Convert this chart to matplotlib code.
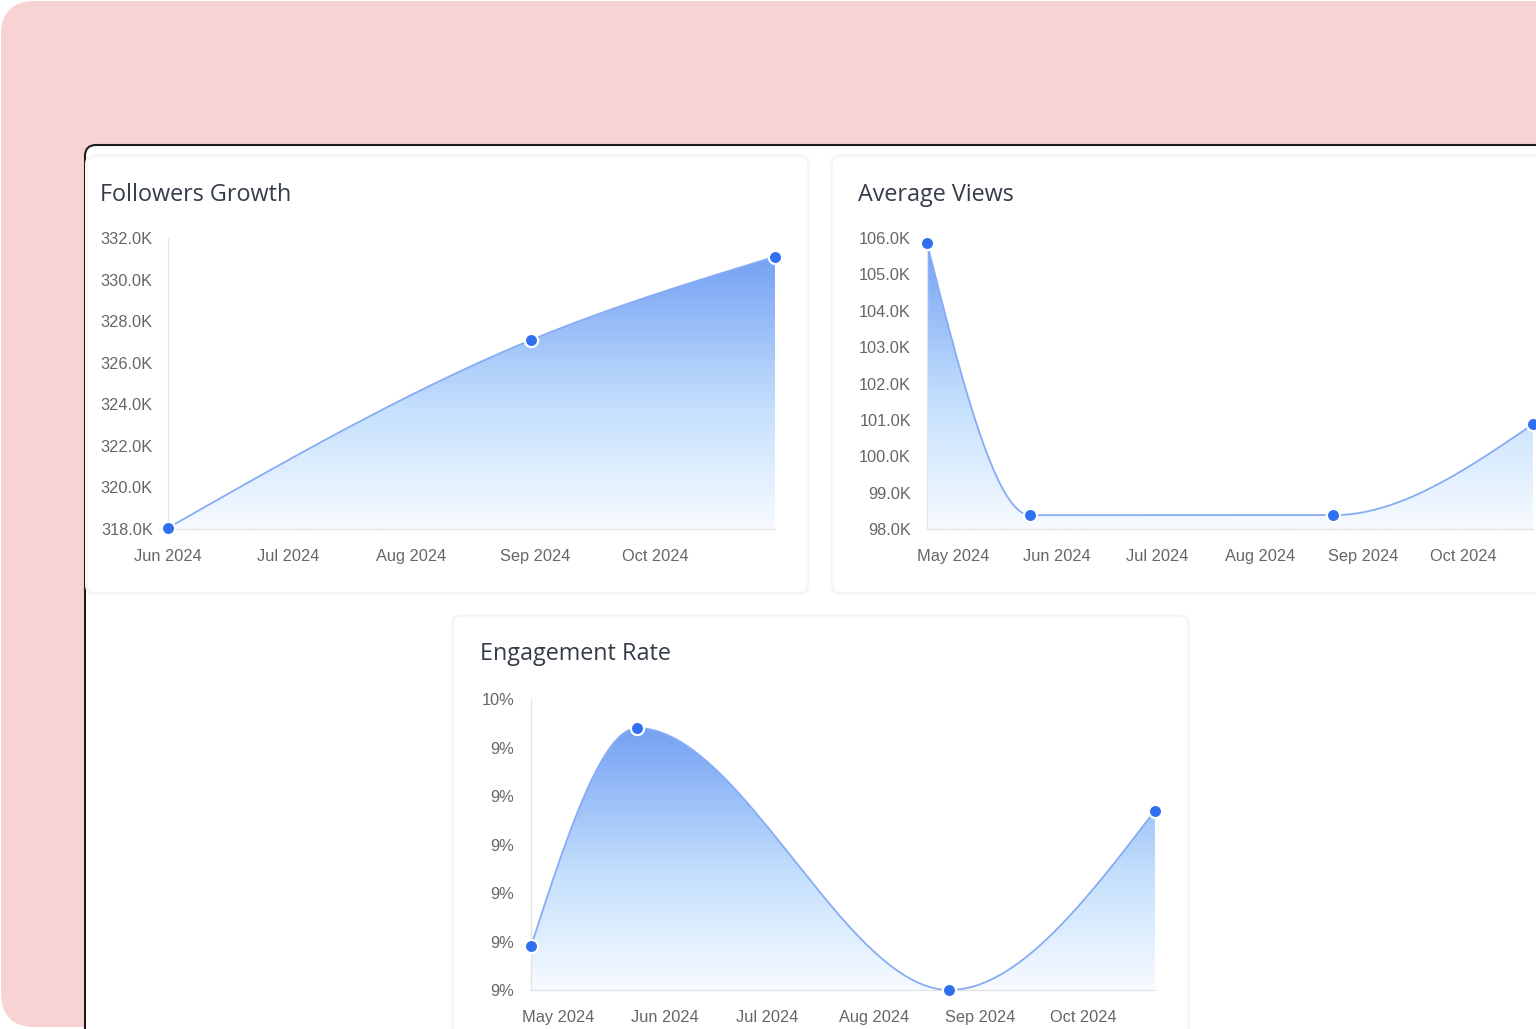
import numpy as np
import matplotlib
matplotlib.use('Agg')
import matplotlib.pyplot as plt
import matplotlib.dates as mdates
from matplotlib.patches import FancyBboxPatch, Polygon
from matplotlib.colors import LinearSegmentedColormap
from matplotlib.ticker import FixedLocator, FuncFormatter
from datetime import date

# data
followers_dates = ['2024-06-01', '2024-08-31', '2024-10-31']
followers_k = [318.05, 327.1, 331.1]
followers_ticks = [318, 320, 322, 324, 326, 328, 330, 332]

views_dates = ['2024-04-23', '2024-05-24', '2024-08-23', '2024-10-22']
views_k = [105.86, 98.38, 98.38, 100.88]
views_ticks = [98, 99, 100, 101, 102, 103, 104, 105, 106]

eng_dates = ['2024-04-23', '2024-05-24', '2024-08-23', '2024-10-22']
eng_rate = [8.99, 9.44, 8.90, 9.27]
eng_ticks = [8.9, 9.0, 9.1, 9.2, 9.3, 9.4, 9.5]

W, H = 1536, 1029
fig = plt.figure(figsize=(W / 100, H / 100), dpi=100)
fig.patch.set_facecolor('white')

# background layer in pixel coordinates
bg = fig.add_axes([0, 0, 1, 1], zorder=0)
bg.set_xlim(0, W)
bg.set_ylim(H, 0)
bg.axis('off')

bg.add_patch(FancyBboxPatch((1, 1), 1800, H - 3, boxstyle='round,pad=0,rounding_size=34',
                            facecolor='#f8d3d3', edgecolor='none'))
bg.add_patch(FancyBboxPatch((85, 145), 1800, 1000, boxstyle='round,pad=0,rounding_size=11',
                            facecolor='white', edgecolor='#1c1c1c', linewidth=1.5))

cards = [(87, 156, 721, 437), (832, 156, 760, 437), (453, 616, 735, 460)]
for cx, cy, cw, ch in cards:
    bg.add_patch(FancyBboxPatch((cx - 2, cy - 2), cw + 4, ch + 4,
                                boxstyle='round,pad=0,rounding_size=10',
                                facecolor='#f8f8f8', edgecolor='none'))
    bg.add_patch(FancyBboxPatch((cx, cy), cw, ch, boxstyle='round,pad=0,rounding_size=9',
                                facecolor='white', edgecolor='#f3f3f3', linewidth=0.8))

title_kw = dict(fontsize=16.8, color='#353c49', family='Open Sans',
                va='center', ha='left')
bg.text(100, 195, 'Followers Growth', **title_kw)
bg.text(858, 195, 'Average Views', **title_kw)
bg.text(480, 654, 'Engagement Rate', **title_kw)

grad = LinearSegmentedColormap.from_list('g', [(0, '#f7fbff'), (0.45, '#c4dffd'), (1, '#74a1f3')])


def px_axes(l, t, r, b):
    return fig.add_axes([l / W, 1 - b / H, (r - l) / W, (b - t) / H], zorder=2)


def smooth(ax, xs, ys, n=80):
    # monotone cubic in screen space
    p = ax.transData.transform(np.column_stack([xs, ys]))
    X, Y = p[:, 0], p[:, 1]
    h = np.diff(X)
    s = np.diff(Y) / h
    m = np.zeros(len(X))
    for i in range(1, len(X) - 1):
        pp = (s[i - 1] * h[i] + s[i] * h[i - 1]) / (h[i - 1] + h[i])
        m[i] = (np.sign(s[i - 1]) + np.sign(s[i])) * min(abs(s[i - 1]), abs(s[i]), 0.5 * abs(pp))
    m[0] = (3 * s[0] - m[1]) / 2
    m[-1] = (3 * s[-1] - m[-2]) / 2
    out = [p[0]]
    t = np.linspace(0, 1, n)[1:]
    for i in range(len(X) - 1):
        h00 = 2 * t ** 3 - 3 * t ** 2 + 1
        h10 = t ** 3 - 2 * t ** 2 + t
        h01 = -2 * t ** 3 + 3 * t ** 2
        h11 = t ** 3 - t ** 2
        xx = X[i] + t * h[i]
        yy = h00 * Y[i] + h10 * h[i] * m[i] + h01 * Y[i + 1] + h11 * h[i] * m[i + 1]
        out.extend(np.column_stack([xx, yy]))
    return ax.transData.inverted().transform(np.array(out))


def area_chart(rect, dates, vals, yticks, fmt, ypad):
    ax = px_axes(*rect)
    ax.patch.set_alpha(0)
    x = mdates.date2num([date.fromisoformat(d) for d in dates])
    xlim = (x[0], x[-1])
    ylim = (yticks[0], yticks[-1])
    ax.set_xlim(*xlim)
    ax.set_ylim(*ylim)

    curve = smooth(ax, x, vals)
    poly = np.vstack([curve, [[xlim[1], ylim[0]], [xlim[0], ylim[0]]]])
    clip = Polygon(poly, closed=True, transform=ax.transData, facecolor='none', edgecolor='none')
    ax.add_patch(clip)
    img = ax.imshow(np.linspace(0, 1, 256)[:, None], cmap=grad, aspect='auto', origin='lower',
                    extent=[xlim[0], xlim[1], ylim[0], max(vals)], zorder=1)
    img.set_clip_path(clip)
    ax.plot(curve[:, 0], curve[:, 1], color='#86acf5', lw=1.3, zorder=3)
    ax.plot(x, vals, 'o', ms=9.5, mfc='#2f6ff0', mec='white', mew=1.6, zorder=4, clip_on=False)
    ax.set_xlim(*xlim)
    ax.set_ylim(*ylim)

    months = []
    d0 = mdates.num2date(xlim[0])
    yy, mm = d0.year, d0.month + 1
    while True:
        if mm > 12:
            yy, mm = yy + 1, 1
        m = mdates.date2num(date(yy, mm, 1))
        if m > xlim[1]:
            break
        months.append(m)
        mm += 1
    if xlim[0] == mdates.date2num(date(d0.year, d0.month, 1)):
        months.insert(0, xlim[0])
    ax.xaxis.set_major_locator(FixedLocator(months))
    ax.xaxis.set_major_formatter(mdates.DateFormatter('%b %Y'))
    ax.yaxis.set_major_locator(FixedLocator(yticks))
    ax.yaxis.set_major_formatter(FuncFormatter(fmt))
    ax.tick_params(axis='x', length=0, pad=14.5, labelsize=11.8, labelcolor='#666666')
    ax.tick_params(axis='y', length=0, pad=ypad, labelsize=11.8, labelcolor='#666666')
    for lab in ax.get_xticklabels() + ax.get_yticklabels():
        lab.set_family('Liberation Sans')
    for sp in ['top', 'right']:
        ax.spines[sp].set_visible(False)
    for sp in ['left', 'bottom']:
        ax.spines[sp].set_color('#e2e2e2')
        ax.spines[sp].set_linewidth(0.9)
    return ax


area_chart((168, 238, 775, 529), followers_dates, followers_k, followers_ticks,
           lambda v, p: f'{v:.1f}K', 11)
area_chart((927, 238, 1533, 529), views_dates, views_k, views_ticks,
           lambda v, p: f'{v:.1f}K', 11.5)
area_chart((531, 699, 1155, 990), eng_dates, eng_rate, eng_ticks,
           lambda v, p: f'{v:.0f}%', 12)

fig.savefig('out.png', dpi=100, facecolor='white')
